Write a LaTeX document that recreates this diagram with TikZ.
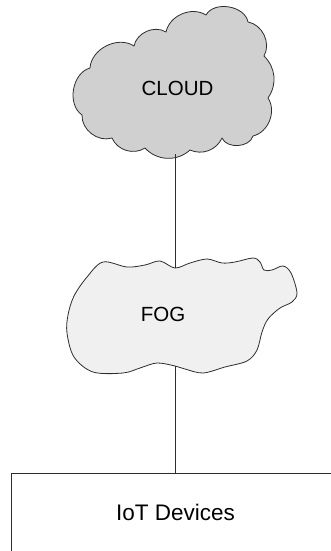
\documentclass[tikz,border=0pt]{standalone}
\usepackage{fontspec}
\setmainfont{Liberation Sans}
\usepackage{xcolor}
\usetikzlibrary{arrows.meta,positioning,calc}
\definecolor{cloudgray}{RGB}{208,208,208}
\definecolor{foggray}{RGB}{240,240,240}
\definecolor{edgegray}{RGB}{45,45,45}

\begin{document}
\begin{tikzpicture}[x=1pt, y=1pt,
  blob/.style={draw=edgegray, line width=0.8pt, line join=round},
  lbl/.style={font=\fontsize{20.5}{24}\selectfont, inner sep=0pt},
  link/.style={draw=edgegray, line width=0.9pt}]
  \useasboundingbox (0,0) rectangle (331,-551);
  \clip (0,0) rectangle (331,-551);
  \draw[blob, fill=cloudgray] (90,-68) to[bend left=60] (134,-46) to[bend left=55] (166,-32)
    to[bend left=55] (206,-15) to[bend left=70] (248,-22) to[bend left=55] (264,-56)
    to[bend left=40] (268,-98) to[bend left=55] (253,-136) to[bend left=70] (222,-138)
    to[bend left=45] (190,-150) to[bend left=45] (145,-148) to[bend left=50] (112,-138)
    to[bend left=55] (82,-115) to[bend left=65] (90,-68) -- cycle;
  \draw[blob, fill=foggray] plot[smooth cycle, tension=0.55] coordinates {
    (103,-262) (127,-267) (145,-265) (160,-261) (175,-268) (190,-263) (207,-259)
    (222,-263) (235,-262) (253,-258) (260,-262) (264,-270) (272,-270) (283,-266)
    (291,-273) (297,-293) (292,-302) (280,-308) (268,-319) (262,-332) (257,-350)
    (247,-361) (225,-367) (203,-373) (185,-369) (175,-366) (157,-363) (140,-368)
    (123,-373) (93,-372) (74,-357) (67,-333) (68,-315) (74,-296) (87,-277)};
  \draw[link] (11,-473) rectangle (345,-575);
  \node[lbl] (cloud) at (177.5,-88) {CLOUD};
  \node[lbl] (fog) at (163,-314) {FOG};
  \node[lbl, font=\fontsize{22.5}{26}\selectfont] (iot) at (175.5,-512) {IoT Devices};
  \coordinate (cloudbot) at (175,-154);
  \coordinate (fogtop) at (175,-268);
  \coordinate (fogbot) at (175,-366);
  \coordinate (iottop) at (175,-473);
  \draw[link] (cloudbot) -- (fogtop);
  \draw[link] (fogbot) -- (iottop);
\end{tikzpicture}
\end{document}
